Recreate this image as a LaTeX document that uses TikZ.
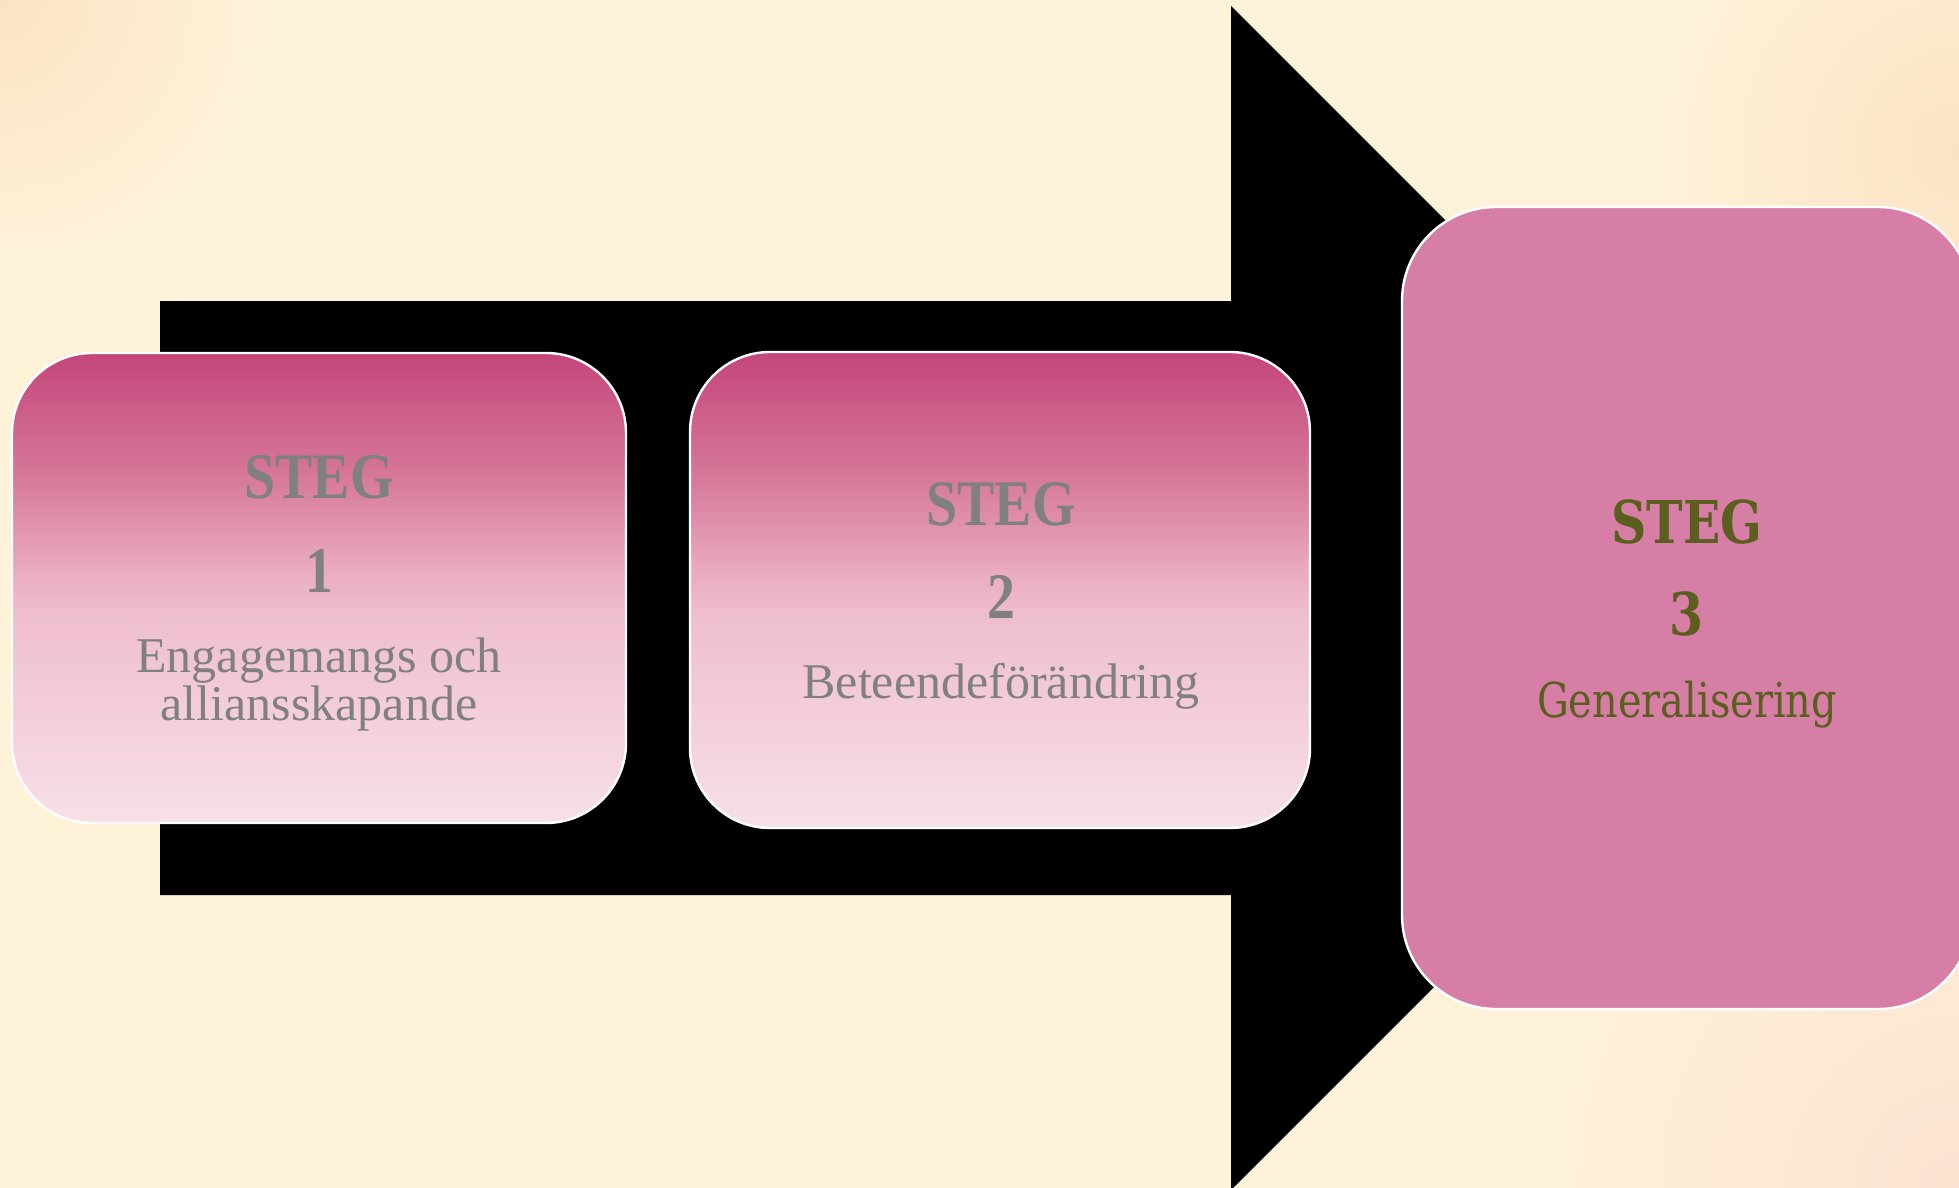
\documentclass[tikz,border=0pt]{standalone}
\usepackage{fontspec}
\setmainfont{Liberation Serif}
\newfontfamily\stegfont[FakeStretch=0.86]{Liberation Serif}
\newfontfamily\txtfont{Liberation Serif}
\newfontfamily\dvfont[FakeStretch=0.83]{DejaVu Serif}
\definecolor{bgcol}{RGB}{254,242,217}
\definecolor{peach}{RGB}{252,226,196}
\definecolor{peachpink}{RGB}{252,226,208}
\definecolor{gtop}{RGB}{196,70,122}
\definecolor{gq}{RGB}{213,117,152}
\definecolor{gm}{RGB}{232,168,189}
\definecolor{gn}{RGB}{239,190,205}
\definecolor{gbot}{RGB}{247,224,231}
\definecolor{box3col}{RGB}{214,126,165}
\definecolor{graytxt}{RGB}{128,128,128}
\definecolor{olivetxt}{RGB}{90,95,30}
\pgfdeclareverticalshading{boxgrad}{100bp}{color(0bp)=(gbot); color(25bp)=(gbot); color(47.5bp)=(gn); color(52.5bp)=(gm); color(62.5bp)=(gq); color(75bp)=(gtop); color(100bp)=(gtop)}
\tikzset{
  stepbox/.style={rectangle, rounded corners=40pt, draw=white, line width=1.2pt, inner sep=0pt, outer sep=0pt, shading=boxgrad},
  finalbox/.style={rectangle, rounded corners=47pt, draw=white, line width=1.2pt, inner sep=0pt, outer sep=0pt, fill=box3col},
  stegtxt/.style={anchor=base, text=graytxt, font=\stegfont\bfseries\fontsize{32.5}{39}\selectfont},
  bodytxt/.style={anchor=base, text=graytxt, font=\txtfont\fontsize{25}{30}\selectfont},
  stegtxtc/.style={anchor=base, text=olivetxt, font=\dvfont\bfseries\fontsize{29.5}{35}\selectfont},
  bodytxtc/.style={anchor=base, text=olivetxt, font=\dvfont\fontsize{24}{29}\selectfont}
}
\begin{document}
\begin{tikzpicture}[x=0.5pt,y=-0.5pt]
\useasboundingbox (0,0) rectangle (1959,1188);
\fill[bgcol] (0,0) rectangle (1959,1188);
\begin{scope}
  \clip (0,0) rectangle (1959,1188);
  \shade[inner color=peach, outer color=bgcol] (0,0) circle (260);
  \shade[inner color=peachpink, outer color=bgcol] (1959,1188) circle (420);
  \shade[inner color=peach, outer color=bgcol] (1959,150) circle (300);
  % arrow
  \fill[black] (160,301) -- (1231,301) -- (1231,6) -- (1823,598) -- (1231,1190) -- (1231,895) -- (160,895) -- cycle;
  % boxes
  \node[stepbox, minimum width=307pt, minimum height=235pt] (box1) at (319,588) {};
  \node[stepbox, minimum width=310pt, minimum height=238pt] (box2) at (1000,590) {};
  \node[finalbox, minimum width=285pt, minimum height=401pt] (box3) at (1687,608) {};
\end{scope}
% texts box 1
\node[stegtxt] (t1a) at (319,498) {STEG};
\node[stegtxt] (t1b) at (319,592) {1};
\node[bodytxt] (t1c) at (319,672) {Engagemangs och};
\node[bodytxt] (t1d) at (319,720) {alliansskapande};
% texts box 2
\node[stegtxt] (t2a) at (1001,525) {STEG};
\node[stegtxt] (t2b) at (1001,618) {2};
\node[bodytxt] (t2c) at (1001,698) {Beteendeförändring};
% texts box 3
\node[stegtxtc] (t3a) at (1687,543) {STEG};
\node[stegtxtc] (t3b) at (1687,635) {3};
\node[bodytxtc] (t3c) at (1687,717) {Generalisering};
\end{tikzpicture}
\end{document}
